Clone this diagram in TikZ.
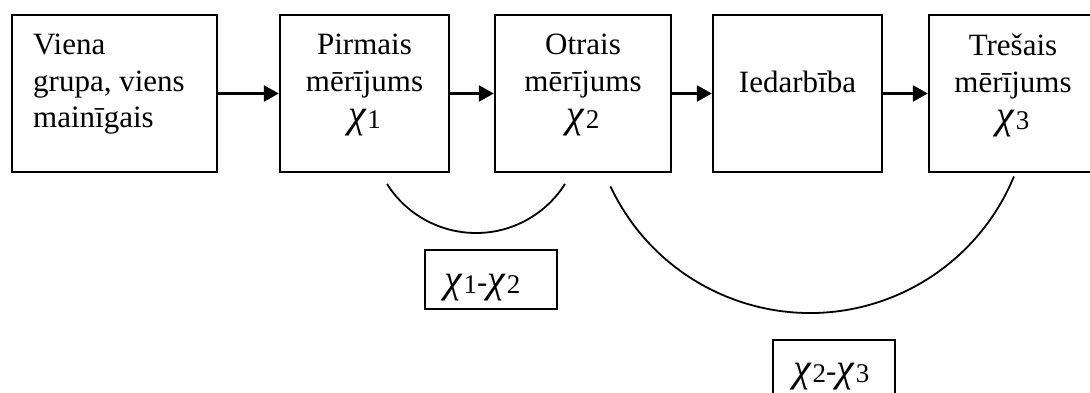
\documentclass[tikz,border=0pt]{standalone}
\usepackage{fontspec}
\setmainfont{Liberation Serif}
\usetikzlibrary{arrows.meta}
% italic chi with a lowered index digit
\newcommand\chisub[1]{{\fontsize{40}{40}\selectfont\textit{χ}}\kern1pt{\fontsize{27}{27}\selectfont\raisebox{-1pt}{#1}}}
\begin{document}
\begin{tikzpicture}[x=1pt,y=-1pt,
  stage/.style={draw,line width=2.4pt,inner sep=0pt,minimum height=157pt,minimum width=#1},
  diffbox/.style={draw,line width=2pt,inner sep=0pt,minimum height=59pt,minimum width=#1},
  txt/.style={inner sep=0pt,font=\fontsize{31}{36.5}\selectfont},
  flow/.style={line width=2.4pt,-{Triangle[length=15pt,width=16pt]}},
  bracket/.style={line width=1.8pt}]
\useasboundingbox (0,0) rectangle (1090,392);

% measurement stages
\node[stage=205pt] (b1) at (114.5,93.5) {};
\node[stage=169pt] (b2) at (364.5,93.5) {};
\node[stage=176pt] (b3) at (583,93.5) {};
\node[stage=169pt] (b4) at (797.5,93.5) {};
\node[stage=168pt] (b5) at (1013,93.5) {};

\node[txt,anchor=north west,align=left] (t1) at (33,34) {Viena\\grupa, viens\\mainīgais};
\node[txt,anchor=north,align=center] (t2) at (364.5,34) {Pirmais\\mērījums\\\chisub{1}};
\node[txt,anchor=north,align=center] (t3) at (583,34) {Otrais\\mērījums\\\chisub{2}};
\node[txt,anchor=base] (t4) at (797.5,92) {Iedarbība};
\node[txt,anchor=north,align=center] (t5) at (1013,34) {Trešais\\mērījums\\\chisub{3}};

% arrows between stages
\draw[flow] (b1) -- (b2);
\draw[flow] (b2) -- (b3);
\draw[flow] (b3) -- (b4);
\draw[flow] (b4) -- (b5);

% brackets joining compared measurements
\coordinate (c12) at (476,127.7);
\coordinate (c23) at (810,92.4);
\draw[bracket] ([shift={(147.7:105.3)}]c12) arc[start angle=212.3,end angle=327.7,radius=105.3pt];
\draw[bracket] ([shift={(154.8:220.6)}]c23) arc[start angle=205.2,end angle=337.6,radius=220.6pt];

% differences
\node[diffbox=132pt] (d12) at (491,279.5) {};
\node[txt,anchor=base west] (e12) at (444,292) {\chisub{1}-\chisub{2}};
\node[diffbox=122pt] (d23) at (834,369.5) {};
\node[txt,anchor=base west] (e23) at (793,381) {\chisub{2}-\chisub{3}};
\end{tikzpicture}
\end{document}
